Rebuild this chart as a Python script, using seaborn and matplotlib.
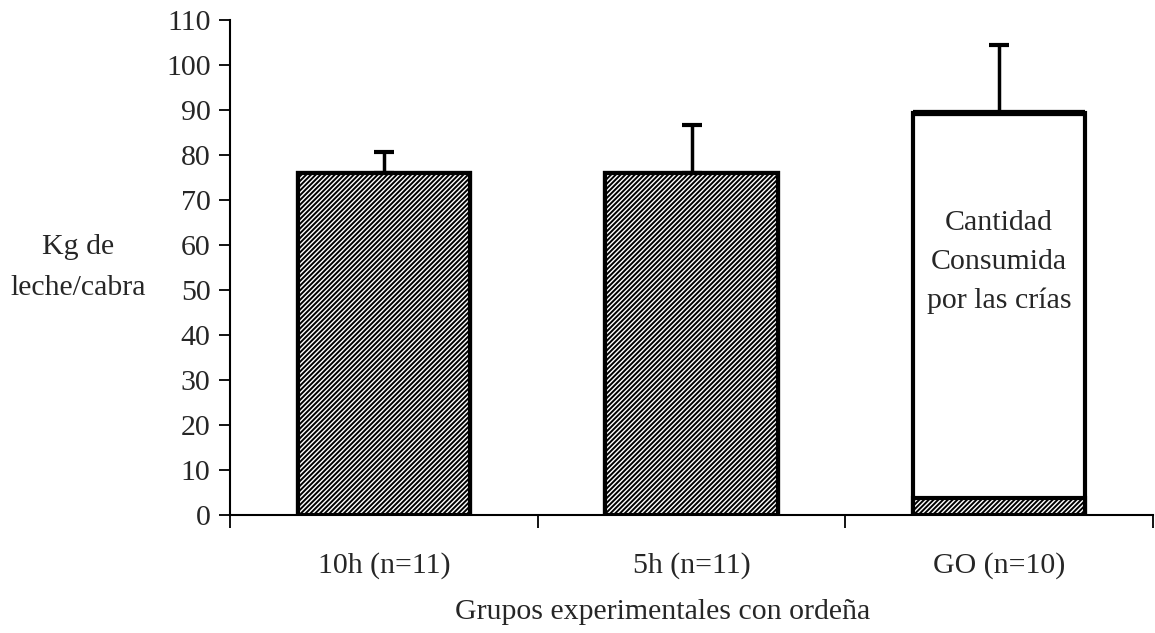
import matplotlib
matplotlib.use("Agg")
import matplotlib.pyplot as plt
from matplotlib.ticker import FixedLocator
import seaborn as sns
import pandas as pd

# Milk yield per goat by experimental group
groups = ["10h (n=11)", "5h (n=11)", "GO (n=10)"]
milked = [76.0, 76.0, 3.8]          # kg collected by milking
total = [76.0, 76.0, 89.3]          # kg total (GO includes kids' intake)
err_up = [4.7, 10.7, 15.2]          # upper error (SD)
yticks = list(range(0, 111, 10))

sns.set_theme(style="white")
plt.rcParams["font.family"] = ["Liberation Serif", "DejaVu Serif"]
plt.rcParams["hatch.linewidth"] = 1.4
plt.rcParams["hatch.color"] = "black"

FS = 21.5
df = pd.DataFrame({"grupo": groups, "total": total, "ordeno": milked})

fig = plt.figure(figsize=(11.55, 6.33), dpi=100)
ax = fig.add_axes([230 / 1155, 1 - 515 / 633, 923 / 1155, 495 / 633])

# Whole bar (white) then the milked portion hatched on top
sns.barplot(data=df, x="grupo", y="total", color="white", edgecolor="black",
            linewidth=3, width=0.56, errorbar=None, ax=ax, saturation=1)
sns.barplot(data=df, x="grupo", y="ordeno", color="white", edgecolor="black",
            linewidth=3, width=0.56, errorbar=None, ax=ax, saturation=1,
            hatch="///////")

# One-sided error bars
ax.errorbar(range(len(groups)), total, yerr=[[0] * 3, err_up], fmt="none",
            ecolor="black", elinewidth=2.5, capsize=7, capthick=3, zorder=5)

# Thicker top edge on the GO bar
ax.hlines(total[2], 2 - 0.28, 2 + 0.28, color="black", lw=4.5, zorder=6)

ax.text(2, 56.2, "Cantidad\nConsumida\npor las crías", ha="center", va="center",
        fontsize=FS, linespacing=1.62)

ax.set_xlim(-0.5, 2.5)
ax.set_ylim(0, 110)
ax.set_yticks(yticks)
ax.set_yticklabels([str(v) for v in yticks])
ax.xaxis.set_minor_locator(FixedLocator([-0.5, 0.5, 1.5, 2.5]))
ax.tick_params(axis="x", which="major", length=0, pad=27, labelsize=FS)
ax.tick_params(axis="x", which="minor", length=9, width=1.3, direction="out",
               color="black", bottom=True)
ax.tick_params(axis="y", length=8, width=1.3, direction="out", color="black",
               left=True, labelsize=FS, pad=6)

for side in ["top", "right"]:
    ax.spines[side].set_visible(False)
for side in ["left", "bottom"]:
    ax.spines[side].set_color("black")
    ax.spines[side].set_linewidth(1.5)

ax.set_ylabel("Kg de\nleche/cabra", rotation=0, fontsize=FS, ha="center",
              va="center", linespacing=1.75)
ax.yaxis.set_label_coords(-0.165, 0.5)
ax.set_xlabel("Grupos experimentales con ordeña", fontsize=FS)
ax.xaxis.set_label_coords(0.469, -0.17)

fig.savefig("out.png", dpi=100)
